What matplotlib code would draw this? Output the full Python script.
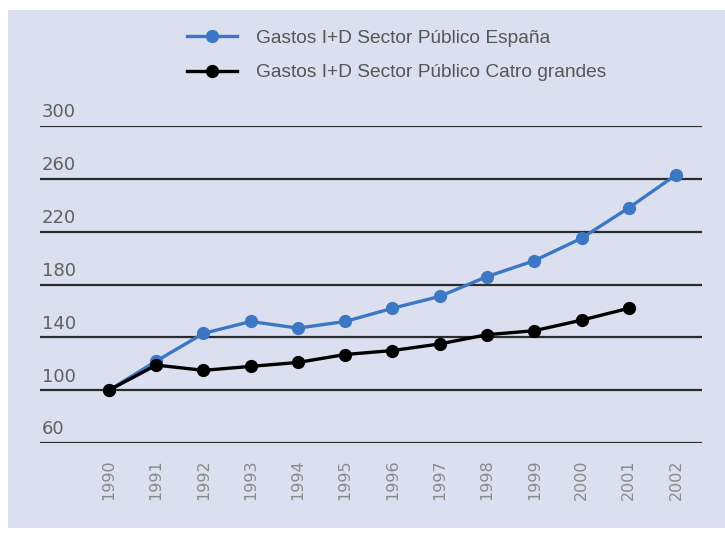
import matplotlib.pyplot as plt
from matplotlib.patches import Rectangle

# datos
anos = list(range(1990, 2003))
espana = [100, 122, 143, 152, 147, 152, 162, 171, 186, 198, 215, 238, 263]
anos_catro = list(range(1990, 2002))
catro = [100, 119, 115, 118, 121, 127, 130, 135, 142, 145, 153, 162]
yticks = [60, 100, 140, 180, 220, 260, 300]

AZUL = '#3b77c2'
FONDO = '#dcdff0'

fig = plt.figure(figsize=(7.25, 5.34), dpi=100, facecolor='white')
fig.patches.append(Rectangle((8/725, 6/534), 1 - 8/725, 518/534,
                             transform=fig.transFigure, facecolor=FONDO,
                             edgecolor='none', zorder=-10))

ax = fig.add_axes([40/725, 1 - 443/534, 662/725, (443 - 126)/534])
ax.set_facecolor('none')
ax.set_xlim(1988.54, 2002.55)
ax.set_ylim(60, 300)

for v in yticks:
    ax.axhline(v, color='#2b2b2b', lw=1.6, zorder=1)
    ax.text(0.003, v + 3.5, str(v), transform=ax.get_yaxis_transform(),
            fontsize=13, color='#606060', ha='left', va='bottom',
            family='DejaVu Sans')

ax.plot(anos, espana, color=AZUL, lw=2.4, marker='o', markersize=8.5,
        zorder=3, label='Gastos I+D Sector Público España')
ax.plot(anos_catro, catro, color='black', lw=2.4, marker='o', markersize=8.5,
        zorder=4, label='Gastos I+D Sector Público Catro grandes')

ax.set_xticks(anos)
ax.set_xticklabels([str(a) for a in anos], rotation=90, fontsize=11.5,
                   color='#8a8a8a')
ax.tick_params(axis='x', length=0, pad=12)
ax.set_yticks([])
for s in ax.spines.values():
    s.set_visible(False)

leg = fig.legend(loc='upper left', bbox_to_anchor=(170/725, 1 - 12/534),
                 frameon=False, handlelength=2.6, handletextpad=1.0,
                 labelspacing=0.9, prop={'family': 'Liberation Sans', 'size': 13.8})
for t in leg.get_texts():
    t.set_color('#555555')

plt.savefig('out.png', dpi=100, facecolor='white')
